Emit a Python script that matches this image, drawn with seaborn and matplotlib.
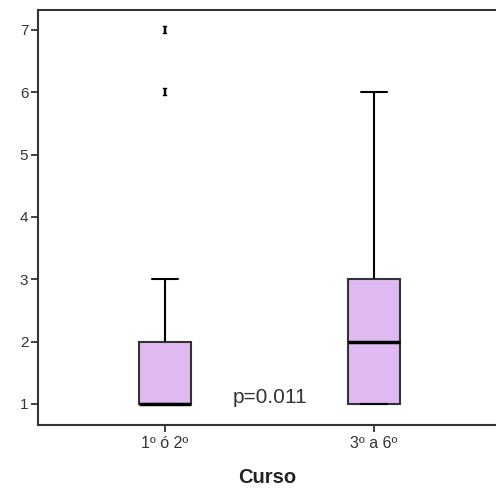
import matplotlib
matplotlib.use("Agg")
import matplotlib.pyplot as plt
import seaborn as sns
import numpy as np
import pandas as pd

categories = ["1º ó 2º", "3º a 6º"]
group1_values = [1]*11 + [2]*5 + [3]*2 + [6, 7]
group2_values = [1]*6 + [2]*5 + [3]*5 + [4]*2 + [5]*2 + [6]
yticks = [1, 2, 3, 4, 5, 6, 7]
p_text = "p=0.011"

df = pd.DataFrame({
    "Curso": [categories[0]]*len(group1_values) + [categories[1]]*len(group2_values),
    "valor": group1_values + group2_values,
})

sns.set_theme(style="white")
plt.rcParams['font.family'] = ['Liberation Sans', 'DejaVu Sans']
plt.rcParams['mathtext.fontset'] = 'dejavuserif'

fig = plt.figure(figsize=(4.96, 4.91), dpi=100)
ax = fig.add_axes([38/496, 66/491, 1 - 38/496, (425-10)/491])

sns.boxplot(data=df, x="Curso", y="valor", order=categories, ax=ax,
            color="#DFB9F2", saturation=1, width=0.25, whis=1.5,
            linecolor="black", linewidth=1.5,
            medianprops=dict(linewidth=2.5, color="black"),
            boxprops=dict(edgecolor="#333333"),
            flierprops=dict(marker=r"$\mathbf{I}$", markersize=6,
                            markerfacecolor="black", markeredgecolor="black",
                            markeredgewidth=0.3))

ax.set_xlim(-0.608, 1.584)
ax.set_ylim(0.66, 7.32)
ax.set_yticks(yticks)
ax.set_yticklabels([str(v) for v in yticks], fontsize=11, color="#333333")
ax.tick_params(axis="x", labelsize=11.5, colors="#333333", length=5, width=1.3,
               direction="out", bottom=True, pad=3)
ax.tick_params(axis="y", length=5, width=1.3, direction="out", left=True,
               colors="#333333", pad=2)
for s in ["left", "bottom", "top"]:
    ax.spines[s].set_color("#333333")
    ax.spines[s].set_linewidth(1.5)
ax.spines["right"].set_visible(False)
ax.set_ylabel("")
ax.set_xlabel("Curso", fontsize=14.5, fontweight="bold", color="#222222", labelpad=12)

ax.text(0.5, 1.1, p_text, ha="center", va="center", fontsize=15, color="#333333")

fig.savefig("out.png", dpi=100)
